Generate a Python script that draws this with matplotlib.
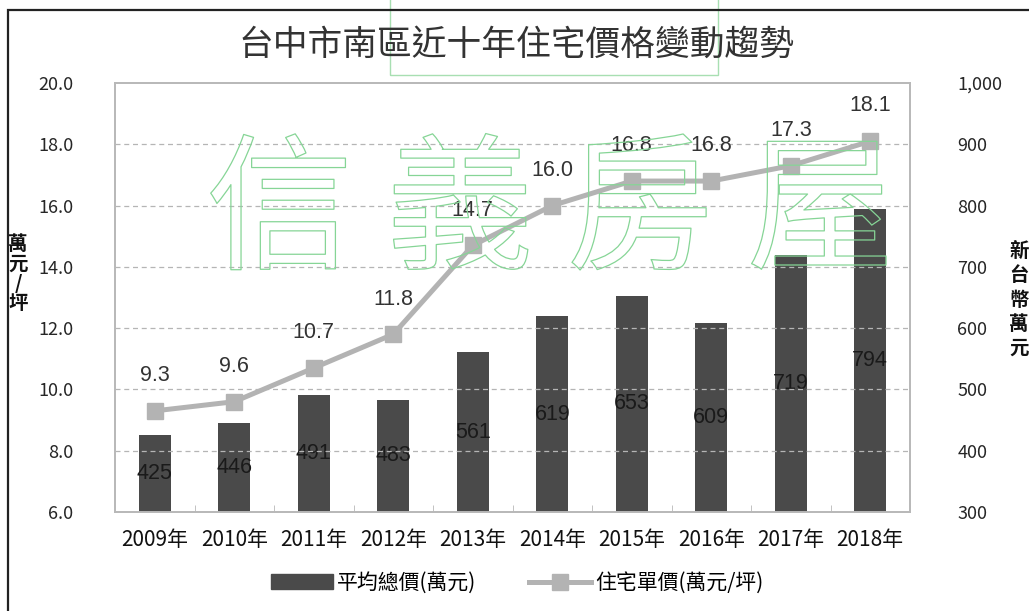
import matplotlib
matplotlib.use("Agg")
import matplotlib.pyplot as plt
import matplotlib.patheffects as pe
from matplotlib.patches import Rectangle
from matplotlib.lines import Line2D
from matplotlib.ticker import FuncFormatter

plt.rcParams['font.family'] = ['Noto Sans CJK TC', 'DejaVu Sans']

years = ['2009年', '2010年', '2011年', '2012年', '2013年',
         '2014年', '2015年', '2016年', '2017年', '2018年']
total_price = [425, 446, 491, 483, 561, 619, 653, 609, 719, 794]   # 萬元
unit_price = [9.3, 9.6, 10.7, 11.8, 14.7, 16.0, 16.8, 16.8, 17.3, 18.1]  # 萬元/坪

bar_color = '#4a4a4a'
line_color = '#b3b3b3'
text_color = '#262626'
num_font = ['Liberation Sans', 'DejaVu Sans']

fig = plt.figure(figsize=(10.29, 6.11), dpi=100)
ax = fig.add_axes([115 / 1029, 99 / 611, 795 / 1029, 429 / 611])
ax2 = ax.twinx()

x = list(range(len(years)))

# bars on the right axis
ax2.bar(x, total_price, width=0.4, color=bar_color, zorder=2)
for xi, v in zip(x, total_price):
    ax2.text(xi, (300 + v) / 2, str(v), ha='center', va='center',
             fontsize=15.5, color='#1a1a1a', family=num_font, zorder=3)
ax2.set_ylim(300, 1000)
ax2.set_yticks(range(300, 1001, 100))
ax2.yaxis.set_major_formatter(FuncFormatter(lambda v, p: f'{int(v):,}'))

# line on the left axis (drawn on top)
ax.set_zorder(ax2.get_zorder() + 1)
ax.patch.set_visible(False)
ax.plot(x, unit_price, color=line_color, linewidth=3.6, marker='s',
        markersize=12, zorder=4)
for xi, v in zip(x, unit_price):
    ax.text(xi, v + 1.15, f'{v:.1f}', ha='center', va='center',
            fontsize=15.5, color='#333333', family=num_font)
ax.set_ylim(6, 20)
ax.set_yticks(range(6, 21, 2))
ax.yaxis.set_major_formatter(FuncFormatter(lambda v, p: f'{v:.1f}'))
ax.set_xlim(-0.5, len(years) - 0.5)
ax.set_xticks(x)
ax.set_xticklabels(years, fontsize=15, color='#111111')
ax.set_xticks([i + 0.5 for i in x[:-1]], minor=True)

# grid lines at left ticks
for g in range(8, 20, 2):
    ax.axhline(g, color='#b5b5b5', linestyle=(0, (4, 3)), linewidth=0.9,
               zorder=0)

for a in (ax, ax2):
    for s in a.spines.values():
        s.set_color('#b8b8b8')
        s.set_linewidth(1.2)
ax.tick_params(axis='y', length=0, pad=30, labelsize=13, labelcolor=text_color)
ax2.tick_params(axis='y', length=0, pad=34, labelsize=13, labelcolor=text_color)
ax.tick_params(axis='x', which='major', length=0, pad=12)
ax.tick_params(axis='x', which='minor', length=5, direction='in',
               color='#b8b8b8')

# titles / axis labels
fig.text(516 / 1029, 1 - 45 / 611, '台中市南區近十年住宅價格變動趨勢',
         ha='center', va='center', fontsize=25, color='#333333')
fig.text(18 / 1029, 1 - 274 / 611, '萬\n元\n/\n坪', ha='center', va='center',
         fontsize=14, fontweight='bold', linespacing=1.05, color='#111111')
fig.text(1019 / 1029, 1 - 300 / 611, '新\n台\n幣\n萬\n元', ha='center',
         va='center', fontsize=14, fontweight='bold', linespacing=1.35,
         color='#111111')

# legend
handles = [Rectangle((0, 0), 1, 1, color=bar_color),
           Line2D([], [], color=line_color, linewidth=3.6, marker='s',
                  markersize=12)]
fig.legend(handles, ['平均總價(萬元)', '住宅單價(萬元/坪)'], loc='center',
           bbox_to_anchor=(517 / 1029, 1 - 583 / 611), ncol=2, frameon=False,
           fontsize=15, handlelength=3.0, columnspacing=2.5, handletextpad=0.2)

# watermark
fig.text(550 / 1029, 1 - 216 / 611, '信 義 房 屋', ha='center', va='center',
         fontsize=106, color='none', zorder=10, fontweight='light',
         path_effects=[pe.Stroke(linewidth=0.9, foreground='#86d596')])
fig.patches.append(Rectangle((390 / 1029, 1 - 75 / 611), 328 / 1029, 80 / 611,
                             transform=fig.transFigure, fill=False,
                             edgecolor='#a8dfb2', linewidth=1.0))

# outer frame
fig.patches.append(Rectangle((8 / 1029, -0.1), 1.2, 1 - 10 / 611 + 0.1,
                             transform=fig.transFigure, fill=False,
                             edgecolor='#222222', linewidth=1.6))

fig.savefig('out.png', dpi=100)
